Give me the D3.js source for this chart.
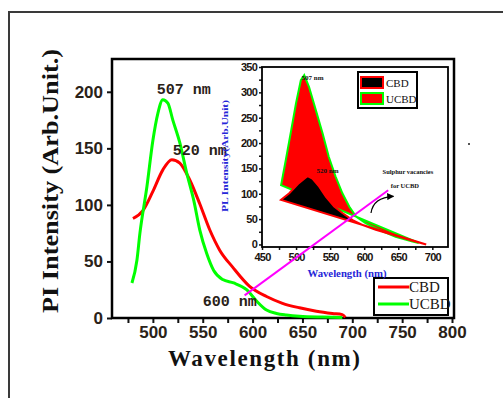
<!DOCTYPE html>
<html>
<head>
<meta charset="utf-8">
<script src="https://cdn.jsdelivr.net/npm/d3@7"></script>
<style>
  body { margin: 0; background: #fff; }
  svg { display: block; }
</style>
</head>
<body>
<script>
// main chart data
const cbdWl  = [480, 490, 500, 510, 519, 527, 537, 547, 557, 567, 580, 597, 614, 630, 647, 664, 680, 690, 693];
const cbdPL  = [88, 95, 112, 131, 140, 137, 122, 101, 78, 60, 45, 28, 19, 13, 9, 6, 4, 3, 0.5];
const ucbdWl = [479, 484, 487, 494, 500, 505, 510, 515, 520, 527, 534, 541, 547, 554, 561, 570, 581, 594, 604, 614, 624, 634, 647, 670, 690];
const ucbdPL = [31, 51, 75, 116, 157, 181, 193, 190, 175, 155, 128, 104, 78, 57, 42, 34, 31, 25, 15, 7, 4, 2.6, 1.5, 0.8, 0.5];
const xTicks = [475, 500, 525, 550, 575, 600, 625, 650, 675, 700, 725, 750, 775, 800];
const yTicks = [0, 50, 100, 150, 200];
const seriesNames = ["CBD", "UCBD"];
const peakLabels = [
  {text: "507 nm", wl: 504, v: 198},
  {text: "520 nm", wl: 520, v: 144},
  {text: "600 nm", wl: 550, v: 10.5}
];
const magentaPts = [[592, 20], [736, 113]];

// inset data
const inCbdWl  = [478, 490, 504, 517, 524, 534, 544, 556, 568, 583, 598, 617, 642, 666, 691];
const inCbdPL  = [88, 101, 121, 135, 130, 114, 94, 75, 62, 48, 38, 29, 19, 9, 0];
const inUcbdWl = [478, 485, 492, 500, 507, 512, 519, 529, 539, 548, 558, 568, 578, 588, 602, 622, 646, 671, 680];
const inUcbdPL = [117, 167, 219, 279, 324, 334, 311, 265, 219, 173, 134, 101, 75, 55, 42, 29, 15, 6, 3];
const inXTicks = [450, 475, 500, 525, 550, 575, 600, 625, 650, 675, 700];
const inYTicks = [0, 25, 50, 75, 100, 125, 150, 175, 200, 225, 250, 275, 300, 325, 350];

const W = 503, H = 398;
const svg = d3.select("body").append("svg").attr("width", W).attr("height", H);
svg.append("rect").attr("width", W).attr("height", H).attr("fill", "#fff");

// outer picture frame
svg.append("rect").attr("x", 9).attr("y", 12).attr("width", 600).attr("height", 500)
  .attr("fill", "none").attr("stroke", "#3a3a3a").attr("stroke-width", 2);
svg.append("rect").attr("x", 468).attr("y", 143).attr("width", 2).attr("height", 2).attr("fill", "#555");

const plot = {left: 112, right: 454, top: 59, bottom: 318};
const x = d3.scaleLinear().domain([459, 802]).range([plot.left, plot.right]);
const y = d3.scaleLinear().domain([0, 229]).range([plot.bottom, plot.top]);

// axes
const xAxis = svg.append("g")
  .attr("transform", "translate(0," + plot.bottom + ")")
  .call(d3.axisBottom(x).tickValues(xTicks).tickSize(5).tickPadding(3)
    .tickFormat(d => d % 50 === 0 ? d : ""));
const yAxis = svg.append("g")
  .attr("transform", "translate(" + plot.left + ",0)")
  .call(d3.axisLeft(y).tickValues(yTicks).tickSize(5).tickPadding(4));
[xAxis, yAxis].forEach(a => {
  a.select(".domain").remove();
  a.selectAll("line").attr("stroke", "#111").attr("stroke-width", 2);
  a.selectAll("text").attr("font-family", "Liberation Sans, Arial, sans-serif")
    .attr("font-size", 17).attr("font-weight", "bold").attr("fill", "#2a2218");
});

svg.append("rect").attr("x", plot.left).attr("y", plot.top)
  .attr("width", plot.right - plot.left).attr("height", plot.bottom - plot.top)
  .attr("fill", "none").attr("stroke", "#000").attr("stroke-width", 2.5);

// axis titles
svg.append("text").attr("transform", "translate(58,181) rotate(-90)")
  .attr("text-anchor", "middle").attr("font-family", "Liberation Serif, Times New Roman, serif")
  .attr("font-size", 23).attr("font-weight", "bold").attr("fill", "#111")
  .attr("textLength", 264).attr("lengthAdjust", "spacingAndGlyphs")
  .text("PI Intensity (Arb.Unit.)");
svg.append("text").attr("x", 264).attr("y", 366)
  .attr("text-anchor", "middle").attr("font-family", "Liberation Serif, Times New Roman, serif")
  .attr("font-size", 23).attr("font-weight", "bold").attr("fill", "#111")
  .attr("textLength", 192).attr("lengthAdjust", "spacing")
  .text("Wavelength (nm)");

// main curves
const line = d3.line().x(d => x(d[0])).y(d => y(d[1])).curve(d3.curveMonotoneX);
const cbd = d3.zip(cbdWl, cbdPL);
const ucbd = d3.zip(ucbdWl, ucbdPL);
svg.append("path").attr("d", line(cbd)).attr("fill", "none").attr("stroke", "#ff0000").attr("stroke-width", 3);
svg.append("path").attr("d", line(ucbd)).attr("fill", "none").attr("stroke", "#00ff00").attr("stroke-width", 3);

// peak labels
svg.selectAll(".peak").data(peakLabels).enter().append("text")
  .attr("x", d => x(d.wl)).attr("y", d => y(d.v))
  .attr("font-family", "Liberation Mono, Courier New, monospace")
  .attr("font-size", 15).attr("font-weight", "bold").attr("fill", "#2a2218")
  .text(d => d.text);

// main legend
const lg = svg.append("g");
lg.append("rect").attr("x", 374).attr("y", 278).attr("width", 74).attr("height", 37)
  .attr("fill", "#fff").attr("stroke", "#000").attr("stroke-width", 2);
const legColors = ["#ff0000", "#00ff00"];
seriesNames.forEach((n, i) => {
  lg.append("line").attr("x1", 378).attr("x2", 409).attr("y1", 287 + i * 17).attr("y2", 287 + i * 17)
    .attr("stroke", legColors[i]).attr("stroke-width", 3);
  lg.append("text").attr("x", 409).attr("y", 292 + i * 17)
    .attr("font-family", "Liberation Serif, Times New Roman, serif").attr("font-size", 15)
    .attr("fill", "#1a1410").text(n);
});

// ---------- inset ----------
const ins = {left: 262, right: 448, top: 67, bottom: 247};
const ix = d3.scaleLinear().domain([450, 723]).range([ins.left, ins.right]);
const iy = d3.scaleLinear().domain([-5, 350]).range([ins.bottom, ins.top]);

svg.append("rect").attr("x", ins.left).attr("y", ins.top)
  .attr("width", ins.right - ins.left).attr("height", ins.bottom - ins.top).attr("fill", "#fff");

const ixAxis = svg.append("g").attr("transform", "translate(0," + ins.bottom + ")")
  .call(d3.axisBottom(ix).tickValues(inXTicks).tickSize(3).tickPadding(3)
    .tickFormat(d => d % 50 === 0 ? d : ""));
const iyAxis = svg.append("g").attr("transform", "translate(" + ins.left + ",0)")
  .call(d3.axisLeft(iy).tickValues(inYTicks).tickSize(3).tickPadding(2)
    .tickFormat(d => d % 50 === 0 ? d : ""));
[ixAxis, iyAxis].forEach(a => {
  a.select(".domain").remove();
  a.selectAll("line").attr("stroke", "#111").attr("stroke-width", 1.5);
  a.selectAll("text").attr("font-family", "Liberation Sans, Arial, sans-serif")
    .attr("font-size", 11).attr("font-weight", "bold").attr("letter-spacing", -0.8).attr("fill", "#1a1410");
});

const area = d3.line().x(d => ix(d[0])).y(d => iy(d[1]));
svg.append("path").attr("d", area(d3.zip(inUcbdWl, inUcbdPL)) + "Z")
  .attr("fill", "#ff0000").attr("stroke", "#00ff00").attr("stroke-width", 2);
svg.append("path").attr("d", area(d3.zip(inCbdWl, inCbdPL)) + "Z")
  .attr("fill", "#000").attr("stroke", "#ff0000").attr("stroke-width", 2);

svg.append("rect").attr("x", ins.left).attr("y", ins.top)
  .attr("width", ins.right - ins.left).attr("height", ins.bottom - ins.top)
  .attr("fill", "none").attr("stroke", "#000").attr("stroke-width", 1.8);

// inset titles
svg.append("text").attr("transform", "translate(228,156) rotate(-90)")
  .attr("text-anchor", "middle").attr("font-family", "Liberation Serif, Times New Roman, serif")
  .attr("font-size", 9).attr("font-weight", "bold").attr("fill", "#2626d8")
  .attr("textLength", 112).attr("lengthAdjust", "spacingAndGlyphs")
  .text("PL Intensity(Arb.Unit)");
svg.append("text").attr("x", 347).attr("y", 277)
  .attr("text-anchor", "middle").attr("font-family", "Liberation Serif, Times New Roman, serif")
  .attr("font-size", 10).attr("font-weight", "bold").attr("fill", "#2626d8")
  .attr("textLength", 79).attr("lengthAdjust", "spacingAndGlyphs")
  .text("Wavelength (nm)");

// inset annotations
const small = (t, wl, v, size) => svg.append("text").attr("x", ix(wl)).attr("y", iy(v))
  .attr("font-family", "Liberation Serif, Times New Roman, serif").attr("font-size", size)
  .attr("font-weight", "bold").attr("fill", "#111").text(t);
small("507 nm", 508, 325, 7);
small("520 nm", 530, 140, 7);
small("Sulphur vacancies", 627, 138, 6.5);
small("for UCBD", 639, 111, 6.5);

svg.append("defs").append("marker").attr("id", "ah").attr("viewBox", "0 0 10 10")
  .attr("refX", 9).attr("refY", 5).attr("markerWidth", 8).attr("markerHeight", 7)
  .attr("markerUnits", "userSpaceOnUse").attr("orient", "auto")
  .append("path").attr("d", "M0,0L10,5L0,10Z").attr("fill", "#000");
const arrowPts = [[610, 62], [613, 93], [643, 95]];
svg.append("path")
  .attr("d", "M" + ix(arrowPts[0][0]) + "," + iy(arrowPts[0][1]) +
    "Q" + ix(arrowPts[1][0]) + "," + iy(arrowPts[1][1]) + " " + ix(arrowPts[2][0]) + "," + iy(arrowPts[2][1]))
  .attr("fill", "none").attr("stroke", "#000").attr("stroke-width", 1.2).attr("marker-end", "url(#ah)");

// inset legend
const il = svg.append("g");
il.append("rect").attr("x", 358).attr("y", 72).attr("width", 59).attr("height", 36)
  .attr("fill", "#fff").attr("stroke", "#000").attr("stroke-width", 2);
const swFill = ["#000", "#ff0000"], swStroke = ["#ff0000", "#00ff00"];
seriesNames.forEach((n, i) => {
  il.append("rect").attr("x", 361).attr("y", 77 + i * 16).attr("width", 22).attr("height", 11)
    .attr("fill", swFill[i]).attr("stroke", swStroke[i]).attr("stroke-width", 2);
  il.append("text").attr("x", 386).attr("y", 87 + i * 16)
    .attr("font-family", "Liberation Serif, Times New Roman, serif").attr("font-size", 11)
    .attr("fill", "#111").text(n);
});

// magenta guide line across both plots
svg.append("path").attr("d", d3.line().x(d => x(d[0])).y(d => y(d[1]))(magentaPts))
  .attr("stroke", "#ff00ff").attr("stroke-width", 2).attr("fill", "none");
</script>
</body>
</html>
